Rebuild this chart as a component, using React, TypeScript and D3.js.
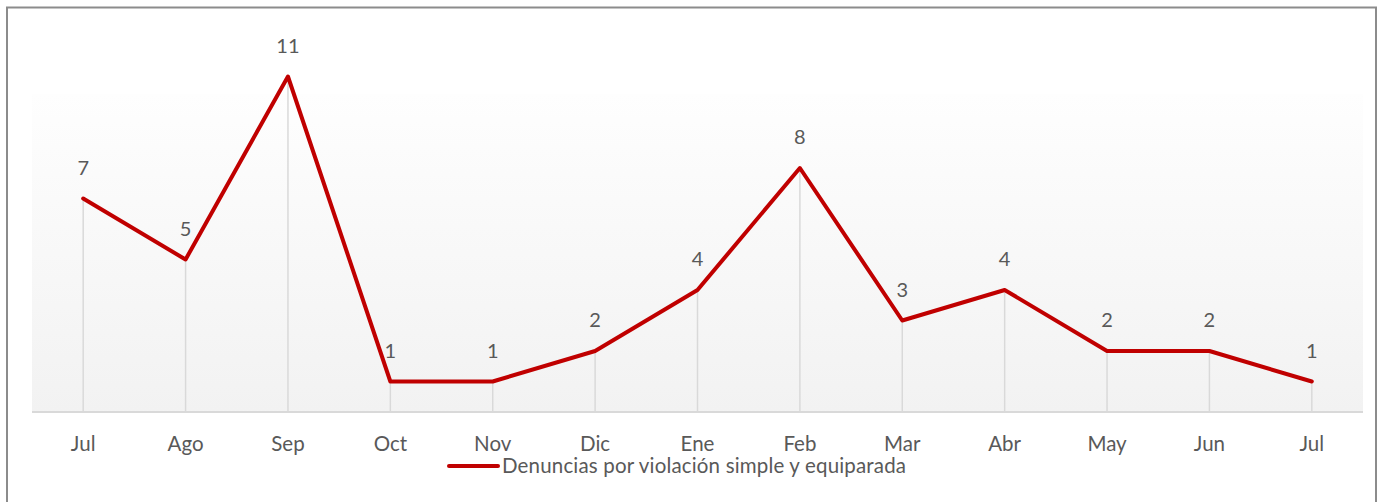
import React from "react";
import * as d3 from "d3";

const months = ["Jul", "Ago", "Sep", "Oct", "Nov", "Dic", "Ene", "Feb", "Mar", "Abr", "May", "Jun", "Jul"];
const denuncias = [7, 5, 11, 1, 1, 2, 4, 8, 3, 4, 2, 2, 1];
const seriesName = "Denuncias por violación simple y equiparada";

const App = () => {
  const width = 1380;
  const height = 502;
  const plot = { left: 32, right: 1363, top: 94, bottom: 412 };
  const font = "Lato, 'Open Sans', sans-serif";
  const textColor = "#595959";

  const keys = months.map((m, i) => `${m}-${i}`);

  const x = d3
    .scaleBand()
    .domain(keys)
    .range([plot.left, plot.right])
    .padding(0);

  const y = d3.scaleLinear().domain([0, 12]).range([plot.bottom, plot.bottom - 12 * 30.5]);

  const cx = (i) => (x(keys[i]) as number) + x.bandwidth() / 2;

  const line = d3
    .line<number>()
    .x((d, i) => cx(i))
    .y((d) => y(d));

  return (
    <svg
      width={width}
      height={height}
      style={{ position: "absolute", left: 0, top: 0, background: "#fff" }}
    >
      <defs>
        <linearGradient id="bg" x1="0" y1="0" x2="0" y2="1">
          <stop offset="0%" stopColor="#fefefe" />
          <stop offset="100%" stopColor="#f2f2f2" />
        </linearGradient>
      </defs>
      <rect x={7} y={7.5} width={1369} height={510} fill="#fff" stroke="#8c8c8c" strokeWidth={2} />
      <rect
        x={plot.left}
        y={plot.top}
        width={plot.right - plot.left}
        height={plot.bottom - plot.top}
        fill="url(#bg)"
      />
      {denuncias.map((d, i) => (
        <line
          key={`drop-${i}`}
          x1={cx(i)}
          x2={cx(i)}
          y1={y(d)}
          y2={plot.bottom}
          stroke="#d9d9d9"
          strokeWidth={1.5}
        />
      ))}
      <line
        x1={plot.left}
        x2={plot.right}
        y1={plot.bottom}
        y2={plot.bottom}
        stroke="#d9d9d9"
        strokeWidth={2}
      />
      <path
        d={line(denuncias) as string}
        fill="none"
        stroke="#c00000"
        strokeWidth={4}
        strokeLinejoin="round"
        strokeLinecap="round"
      />
      {denuncias.map((d, i) => (
        <text
          key={`lbl-${i}`}
          x={cx(i)}
          y={y(d) - 24}
          textAnchor="middle"
          fontFamily={font}
          fontSize={20}
          fill={textColor}
        >
          {d}
        </text>
      ))}
      {months.map((m, i) => (
        <text
          key={`tick-${i}`}
          x={cx(i)}
          y={451}
          textAnchor="middle"
          fontFamily={font}
          fontSize={20.5}
          fill={textColor}
        >
          {m}
        </text>
      ))}
      <g transform="translate(449, 466)">
        <line x1={0} x2={49} y1={0} y2={0} stroke="#c00000" strokeWidth={4} strokeLinecap="round" />
        <text x={53} y={7} fontFamily={font} fontSize={20.5} fill={textColor} textLength={404}>
          {seriesName}
        </text>
      </g>
    </svg>
  );
};

export default App;
